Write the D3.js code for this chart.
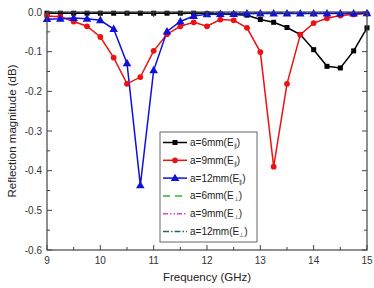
<!DOCTYPE html>
<html>
<head>
<meta charset="utf-8">
<script src="https://cdn.jsdelivr.net/npm/d3@7"></script>
<style>
  body { margin: 0; background: #fff; }
  svg { display: block; font-family: "Liberation Sans", Arial, sans-serif; }
</style>
</head>
<body>
<div id="chart"></div>
<script>
// datos (paso de 0.25 GHz)
const freq = d3.range(25).map(i => 9 + i * 0.25);

const a6par  = [-0.003,-0.003,-0.003,-0.003,-0.003,-0.003,-0.003,-0.003,-0.003,-0.003,-0.003,-0.003,-0.004,-0.005,-0.006,-0.008,-0.019,-0.026,-0.039,-0.057,-0.095,-0.137,-0.141,-0.098,-0.040];
const a9par  = [-0.010,-0.012,-0.024,-0.036,-0.063,-0.115,-0.181,-0.164,-0.098,-0.056,-0.036,-0.026,-0.036,-0.019,-0.021,-0.040,-0.101,-0.390,-0.181,-0.057,-0.028,-0.016,-0.009,-0.006,-0.004];
const a12par = [-0.018,-0.017,-0.015,-0.017,-0.021,-0.043,-0.129,-0.437,-0.147,-0.049,-0.024,-0.010,-0.006,-0.005,-0.005,-0.004,-0.004,-0.004,-0.004,-0.004,-0.004,-0.004,-0.004,-0.004,-0.003];
const a6perp  = [-0.002,-0.002,-0.002,-0.002,-0.002,-0.002,-0.002,-0.003,-0.003,-0.003,-0.004,-0.005,-0.006,-0.006,-0.005,-0.004,-0.003,-0.003,-0.002,-0.002,-0.002,-0.002,-0.002,-0.002,-0.002];
const a9perp  = [-0.003,-0.003,-0.003,-0.003,-0.003,-0.003,-0.003,-0.003,-0.003,-0.003,-0.003,-0.003,-0.003,-0.003,-0.003,-0.003,-0.003,-0.003,-0.003,-0.003,-0.003,-0.003,-0.003,-0.003,-0.003];
const a12perp = [-0.002,-0.002,-0.002,-0.002,-0.002,-0.002,-0.002,-0.002,-0.002,-0.002,-0.002,-0.002,-0.002,-0.002,-0.002,-0.002,-0.002,-0.002,-0.002,-0.002,-0.002,-0.002,-0.002,-0.002,-0.002];

const xTicks = [9, 10, 11, 12, 13, 14, 15];
const yTicks = [0, -0.1, -0.2, -0.3, -0.4, -0.5, -0.6];

const series = [
  { name: 'a=6mm(E', sub: '\u22a5', values: a6perp,  color: '#22c222', dash: '7,5',          marker: null },
  { name: 'a=9mm(E', sub: '\u22a5', values: a9perp,  color: '#e040e0', dash: '5,2,1.5,2,1.5,2', marker: null },
  { name: 'a=12mm(E', sub: '\u22a5', values: a12perp, color: '#1f6b5a', dash: '6,2,1.5,2',   marker: null },
  { name: 'a=6mm(E', sub: '\u2225', values: a6par,  color: '#000000', dash: null, marker: 'square' },
  { name: 'a=9mm(E', sub: '\u2225', values: a9par,  color: '#ee1111', dash: null, marker: 'circle' },
  { name: 'a=12mm(E', sub: '\u2225', values: a12par, color: '#1010dd', dash: null, marker: 'triangle' }
];
// orden de la leyenda
const legendOrder = [3, 4, 5, 0, 1, 2];

const W = 374, H = 288;
const margin = { top: 12, right: 7, bottom: 38, left: 47 };
const width = W - margin.left - margin.right,
      height = H - margin.top - margin.bottom;

const svg = d3.select('#chart').append('svg')
  .attr('width', W).attr('height', H);

const g = svg.append('g')
  .attr('transform', 'translate(' + margin.left + ',' + margin.top + ')');

const x = d3.scaleLinear().domain([9, 15]).range([0, width]);
const y = d3.scaleLinear().domain([-0.6, 0]).range([height, 0]);

// lineas
const line = d3.line().x((d, i) => x(freq[i])).y(d => y(d));

series.forEach(s => {
  g.append('path')
    .datum(s.values)
    .attr('fill', 'none')
    .attr('stroke', s.color)
    .attr('stroke-width', 1.5)
    .attr('stroke-dasharray', s.dash)
    .attr('d', line);
});

function drawMarker(sel, type, color, cx, cy) {
  if (type === 'square') {
    sel.append('rect').attr('x', cx - 2.5).attr('y', cy - 2.5).attr('width', 5).attr('height', 5).attr('fill', color);
  } else if (type === 'circle') {
    sel.append('circle').attr('cx', cx).attr('cy', cy).attr('r', 2.9).attr('fill', color);
  } else if (type === 'triangle') {
    sel.append('path').attr('d', d3.symbol(d3.symbolTriangle, 32)()).attr('transform', 'translate(' + cx + ',' + (cy + 0.5) + ')').attr('fill', color);
  }
}

series.filter(s => s.marker).forEach(s => {
  const mg = g.append('g');
  s.values.forEach((v, i) => drawMarker(mg, s.marker, s.color, x(freq[i]), y(v)));
});

// ejes
const axisColor = '#444';
g.append('rect').attr('width', width).attr('height', height)
  .attr('fill', 'none').attr('stroke', axisColor).attr('stroke-width', 1.2);

const xMinor = d3.range(9, 15.01, 0.5);
const yMinor = d3.range(0, -0.601, -0.05);

// ticks hacia dentro
xMinor.forEach(t => {
  const major = Math.abs(t - Math.round(t)) < 1e-6;
  const len = major ? 5 : 3;
  g.append('line').attr('x1', x(t)).attr('x2', x(t)).attr('y1', height).attr('y2', height - len).attr('stroke', axisColor);
  g.append('line').attr('x1', x(t)).attr('x2', x(t)).attr('y1', 0).attr('y2', len).attr('stroke', axisColor);
});
yMinor.forEach((t, i) => {
  const len = i % 2 === 0 ? 5 : 3;
  g.append('line').attr('x1', 0).attr('x2', len).attr('y1', y(t)).attr('y2', y(t)).attr('stroke', axisColor);
  g.append('line').attr('x1', width).attr('x2', width - len).attr('y1', y(t)).attr('y2', y(t)).attr('stroke', axisColor);
});

g.selectAll('.xlab').data(xTicks).enter().append('text')
  .attr('x', d => x(d)).attr('y', height + 14)
  .attr('text-anchor', 'middle').attr('font-size', 10).attr('fill', '#333')
  .text(d => d);

g.selectAll('.ylab').data(yTicks).enter().append('text')
  .attr('x', -5).attr('y', d => y(d) + 3.5)
  .attr('text-anchor', 'end').attr('font-size', 10).attr('fill', '#333')
  .text(d => d3.format('.1f')(d).replace('\u2212', '-'));

svg.append('text')
  .attr('x', margin.left + width / 2).attr('y', H - 7)
  .attr('text-anchor', 'middle').attr('font-size', 11.5).attr('fill', '#222')
  .text('Frequency (GHz)');

svg.append('text')
  .attr('transform', 'translate(16,' + (margin.top + height / 2) + ') rotate(-90)')
  .attr('text-anchor', 'middle').attr('font-size', 11.5).attr('fill', '#222')
  .text('Reflection magnitude (dB)');

// leyenda
const lg = svg.append('g').attr('transform', 'translate(160,132)');
lg.append('rect').attr('width', 97).attr('height', 110)
  .attr('fill', '#fff').attr('stroke', '#666').attr('stroke-width', 1);

legendOrder.forEach((si, k) => {
  const s = series[si];
  const ry = 10.5 + k * 17.8;
  lg.append('line').attr('x1', 3).attr('x2', 27).attr('y1', ry).attr('y2', ry)
    .attr('stroke', s.color).attr('stroke-width', 1.5).attr('stroke-dasharray', s.dash);
  if (s.marker) drawMarker(lg, s.marker, s.color, 15, ry);
  const t = lg.append('text').attr('x', 30).attr('y', ry + 3.5)
    .attr('font-size', 10).attr('fill', '#222');
  t.append('tspan').text(s.name);
  t.append('tspan').attr('font-size', 6).attr('dy', 2).text(s.sub);
  t.append('tspan').attr('dy', -2).text(')');
});
</script>
</body>
</html>
